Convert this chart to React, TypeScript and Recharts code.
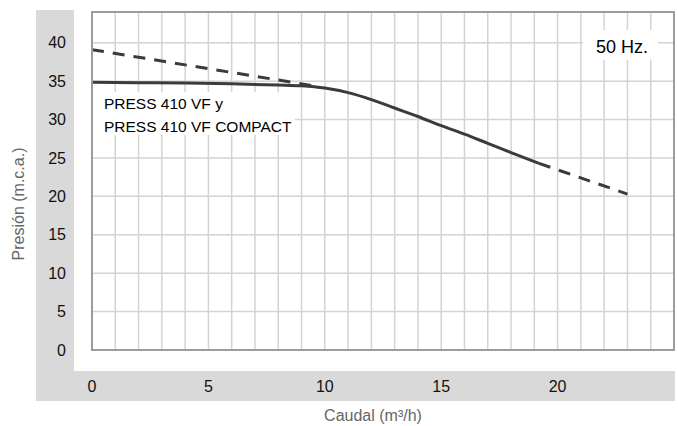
// App.tsx

import { LineChart, Line, XAxis, YAxis, CartesianGrid } from "recharts";

// curva de la bomba (caudal m3/h -> presión m.c.a.)
const solidFlow = [0, 2, 4, 6, 8, 9, 10, 11, 12, 13, 14, 15, 16, 17, 18, 19.2];
const solidPress = [34.85, 34.8, 34.75, 34.65, 34.5, 34.4, 34.1, 33.5, 32.6, 31.5, 30.4, 29.2, 28.1, 26.9, 25.7, 24.3];

// tramos discontinuos
const upperFlow = [0, 9.5];
const upperPress = [39.1, 34.4];
const lowerFlow = [19.2, 23];
const lowerPress = [24.3, 20.3];

const xTicks = [0, 5, 10, 15, 20];
const yTicks = [0, 5, 10, 15, 20, 25, 30, 35, 40];
const xGrid = [1, 2, 3, 4, 5, 6, 7, 8, 9, 10, 11, 12, 13, 14, 15, 16, 17, 18, 19, 20, 21, 22, 23, 24];
const yGrid = [5, 10, 15, 20, 25, 30, 35, 40];

const modelLines = ["PRESS 410 VF y", "PRESS 410 VF COMPACT"];
const freqLabel = "50 Hz.";
const xTitle = "Caudal (m³/h)";
const yTitle = "Presión (m.c.a.)";

const toRows = (xs: number[], ys: number[]) => xs.map((q, i) => ({ q, p: ys[i] }));

const solidData = toRows(solidFlow, solidPress);
const upperData = toRows(upperFlow, upperPress);
const lowerData = toRows(lowerFlow, lowerPress);

const LINE = "#3b3b3b";
const FONT = "'Liberation Sans', Arial, Helvetica, sans-serif";

export default function App() {
  return (
    <div
      style={{
        position: "absolute",
        left: 0,
        top: 0,
        width: 678,
        height: 426,
        background: "#fff",
        fontFamily: FONT,
      }}
    >
      {/* franjas grises */}
      <div style={{ position: "absolute", left: 36, top: 10, width: 38, height: 391, background: "#d9d9d9" }} />
      <div style={{ position: "absolute", left: 36, top: 371, width: 639, height: 30, background: "#d9d9d9" }} />

      <div style={{ position: "absolute", left: 0, top: 0 }}>
        <LineChart
          width={678}
          height={426}
          margin={{ top: 12, right: 4, left: 36, bottom: 26 }}
        >
          <CartesianGrid
            stroke="#d3d3d3"
            strokeWidth={1.5}
            verticalValues={xGrid}
            horizontalValues={yGrid}
          />
          <XAxis
            type="number"
            dataKey="q"
            domain={[0, 25]}
            ticks={xTicks}
            allowDataOverflow
            axisLine={false}
            tickLine={false}
            tickSize={0}
            tickMargin={31}
            height={50}
            tick={{ fill: "#111", fontSize: 16, fontFamily: FONT }}
          />
          <YAxis
            type="number"
            dataKey="p"
            domain={[0, 44]}
            ticks={yTicks}
            allowDataOverflow
            axisLine={false}
            tickLine={false}
            tickSize={0}
            tickMargin={26}
            width={56}
            tick={{ fill: "#111", fontSize: 16, fontFamily: FONT }}
          />
          <Line
            data={upperData}
            dataKey="p"
            type="linear"
            stroke={LINE}
            strokeWidth={3}
            strokeDasharray="12 9"
            dot={false}
            isAnimationActive={false}
          />
          <Line
            data={lowerData}
            dataKey="p"
            type="linear"
            stroke={LINE}
            strokeWidth={3}
            strokeDasharray="12 9"
            dot={false}
            isAnimationActive={false}
          />
          <Line
            data={solidData}
            dataKey="p"
            type="monotone"
            stroke={LINE}
            strokeWidth={3}
            dot={false}
            isAnimationActive={false}
          />
        </LineChart>
      </div>

      {/* marco, rótulos y títulos */}
      <svg
        width={678}
        height={426}
        style={{ position: "absolute", left: 0, top: 0, pointerEvents: "none" }}
      >
        <rect x={92} y={12} width={582} height={338} fill="none" stroke="#9c9c9c" strokeWidth={2} />
        <rect x={93} y={92} width={202} height={43} fill="#fff" />
        <text x={104} y={108.5} fontSize={15.5} fill="#000" fontFamily={FONT}>
          {modelLines[0]}
        </text>
        <text x={104} y={131.5} fontSize={15.5} fill="#000" fontFamily={FONT}>
          {modelLines[1]}
        </text>
        <rect x={583} y={30} width={75} height={30} fill="#fff" />
        <text x={596} y={52.5} fontSize={18} fill="#000" fontFamily={FONT}>
          {freqLabel}
        </text>
        <text
          transform="translate(24,204) rotate(-90)"
          textAnchor="middle"
          fontSize={16}
          fill="#666"
          fontFamily={FONT}
        >
          {yTitle}
        </text>
        <text x={373} y={421} textAnchor="middle" fontSize={16} fill="#666" fontFamily={FONT}>
          {xTitle}
        </text>
      </svg>
    </div>
  );
}
